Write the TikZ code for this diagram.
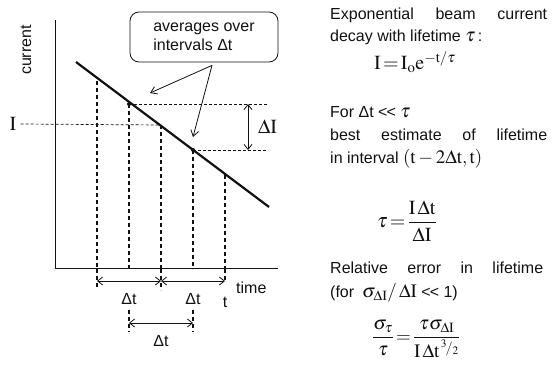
\documentclass[tikz,border=0pt]{standalone}
\usepackage{amsmath}
\usepackage{mathptmx}
\usepackage[no-math]{fontspec}
\setmainfont{Liberation Sans}
\usetikzlibrary{arrows.meta}
\definecolor{plotink}{HTML}{111111}
\newcommand{\rmI}{\mathrm{I}}
\newcommand{\rmt}{\mathrm{t}}
\newcommand{\mathbig}{\fontsize{19}{22}\selectfont}

\begin{document}
\begin{tikzpicture}[
  x=1pt,
  y=-1pt,
  every node/.style={font=\fontsize{16}{19}\selectfont, plotink, inner sep=0pt},
  mathlabel/.style={font=\fontsize{20}{23}\selectfont},
  axis/.style={plotink, line width=1pt},
  curve/.style={plotink, line width=2.2pt},
  guide/.style={plotink, line width=1.1pt, dash pattern=on 4pt off 3pt},
  fine/.style={plotink, line width=0.7pt, dash pattern=on 3pt off 2pt},
  span/.style={plotink, line width=0.8pt, {Straight Barb[length=5pt,width=8pt]}-{Straight Barb[length=5pt,width=8pt]}},
  pointer/.style={plotink, line width=0.8pt, -{Straight Barb[length=6pt,width=8pt]}},
  callout/.style={draw, line width=0.8pt, rounded corners=9pt, minimum width=148pt,
    minimum height=50pt, align=left, inner xsep=10pt}
]
  \useasboundingbox (0,0) rectangle (552,366);

  % ---- axes --------------------------------------------------------------
  \coordinate (ytop) at (55,20);
  \coordinate (origin) at (55,269);
  \coordinate (xend) at (278,269);
  \draw[axis] (ytop) -- (origin) -- (xend);
  \node[rotate=90] (ylab) at (26,50) {current};
  \node[anchor=west] (xlab) at (236,288) {time};

  % ---- the decaying current ----------------------------------------------
  \coordinate (lstart) at (76,62);
  \coordinate (lend) at (269,207);
  \draw[curve] (lstart) -- (lend);

  % ---- sample times, from the line down to the axis ----------------------
  \foreach \n/\x/\y in {a/97/81, b/129/104, c/161/125, d/193/150, e/225/175}{
    \coordinate (top\n) at (\x,\y);
    \coordinate (foot\n) at (\x,269);
    \draw[guide] (top\n) -- (foot\n);
  }
  \fill[plotink] (topb) circle (2pt);
  \fill[plotink] (topd) circle (2pt);

  % ---- current levels ----------------------------------------------------
  \node[mathlabel] (Ilab) at (13,124) {$\rmI$};
  \draw[fine] ([xshift=4pt]Ilab.east) -- (topc);
  \coordinate (hb) at (268,104);
  \coordinate (hd) at (268,150);
  \draw[fine] (topb) -- (hb);
  \draw[fine] (topd) -- (hd);

  \coordinate (dIa) at (248,104);
  \coordinate (dIb) at (248,150);
  \draw[span] (dIa) -- (dIb);
  \node[mathlabel, anchor=west] (dIlab) at (258,127) {$\Delta\rmI$};

  % ---- callout -----------------------------------------------------------
  \node[callout] (avg) at (204,37) {averages over\\intervals Δt};
  \coordinate (tipA) at (150,93);
  \coordinate (tipB) at (193,137);
  \draw[pointer] ([shift={(8,3)}]avg.south) -- (tipA);
  \draw[pointer] ([shift={(8,3)}]avg.south) -- (tipB);

  % ---- intervals below the axis -----------------------------------------
  \coordinate (ea) at (97,289);
  \coordinate (ec) at (161,290);
  \coordinate (ee) at (225,281);
  \draw[guide] (foota) -- (ea);
  \draw[guide] (footc) -- (ec);
  \draw[guide] (foote) -- (ee);
  \coordinate (ra) at (97,281);
  \coordinate (rc) at (161,281);
  \coordinate (re) at (225,281);
  \draw[span] (ra) -- (rc);
  \draw[span] (rc) -- (re);
  \node (dt1) at (129,299) {Δt};
  \node (dt2) at (193,299) {Δt};
  \node (tlab) at (225,302) {t};

  \coordinate (sb1) at (129,310);
  \coordinate (sb2) at (129,332);
  \coordinate (sd1) at (193,310);
  \coordinate (sd2) at (193,332);
  \draw[guide] (sb1) -- (sb2);
  \draw[guide] (sd1) -- (sd2);
  \coordinate (rb) at (129,323);
  \coordinate (rd) at (193,323);
  \draw[span] (rb) -- (rd);
  \node (dt3) at (161,341) {Δt};

  % ---- text on the right -------------------------------------------------
  \node[anchor=west] (txt1) at (330,15) {\makebox[217pt][s]{Exponential beam current}};
  \node[anchor=west] (txt2) at (330,37) {decay with lifetime {\mathbig$\tau$}\,:};
  \node[anchor=west, mathlabel] (eq1) at (374,62)
    {$\rmI\!=\!\mathrm{I_o}\mathrm{e}^{-\rmt/\tau}$};
  \node[anchor=west] (txt3) at (330,112) {For Δt <\kern-1pt< {\mathbig$\tau$}};
  \node[anchor=west] (txt4) at (330,135) {\makebox[217pt][s]{best estimate of lifetime}};
  \node[anchor=west] (txt5) at (330,159)
    {in interval {\mathbig$(\rmt-2\Delta\rmt,\rmt)$}};
  \node[anchor=west, mathlabel] (eq2) at (377,221)
    {$\tau\!=\!\dfrac{\rmI\,\Delta\rmt}{\Delta\rmI}$};
  \node[anchor=west] (txt6) at (330,268) {\makebox[213pt][s]{Relative error in lifetime}};
  \node[anchor=west] (txt7) at (330,293)
    {(for\enspace {\mathbig$\sigma_{\Delta\rmI}/\,\Delta\rmI$} <\kern-1pt< 1)};
  \node[anchor=west, mathlabel, font=\fontsize{19}{22}\selectfont] (eq3) at (372,339)
    {$\dfrac{\sigma_\tau}{\tau}\!=\!\dfrac{\tau\sigma_{\Delta\rmI}}{\rmI\,\Delta\rmt^{\,{}^3\!/_2}}$};

\end{tikzpicture}
\end{document}
